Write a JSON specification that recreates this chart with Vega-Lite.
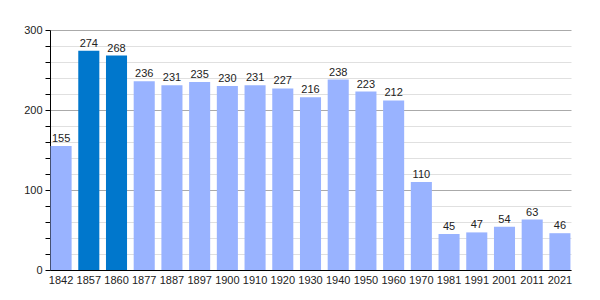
{
  "$schema": "https://vega.github.io/schema/vega-lite/v6.json",
  "width": 521,
  "height": 240,
  "autosize": {"type": "none"},
  "padding": {"left": 50, "top": 30, "right": 29, "bottom": 30},
  "background": "white",
  "config": {"view": {"stroke": null}, "font": "Liberation Sans"},
  "data": {"values": [
    {"year": "1842", "pop": 155, "hl": "n"},
    {"year": "1857", "pop": 274, "hl": "y"},
    {"year": "1860", "pop": 268, "hl": "y"},
    {"year": "1877", "pop": 236, "hl": "n"},
    {"year": "1887", "pop": 231, "hl": "n"},
    {"year": "1897", "pop": 235, "hl": "n"},
    {"year": "1900", "pop": 230, "hl": "n"},
    {"year": "1910", "pop": 231, "hl": "n"},
    {"year": "1920", "pop": 227, "hl": "n"},
    {"year": "1930", "pop": 216, "hl": "n"},
    {"year": "1940", "pop": 238, "hl": "n"},
    {"year": "1950", "pop": 223, "hl": "n"},
    {"year": "1960", "pop": 212, "hl": "n"},
    {"year": "1970", "pop": 110, "hl": "n"},
    {"year": "1981", "pop": 45, "hl": "n"},
    {"year": "1991", "pop": 47, "hl": "n"},
    {"year": "2001", "pop": 54, "hl": "n"},
    {"year": "2011", "pop": 63, "hl": "n"},
    {"year": "2021", "pop": 46, "hl": "n"}
  ]},
  "encoding": {
    "x": {"field": "year", "type": "ordinal", "sort": null,
      "scale": {"paddingInner": 0.24, "paddingOuter": 0.02},
      "axis": {"title": null, "labelAngle": 0, "domainColor": "black", "ticks": false, "labelFontSize": 11, "labelColor": "#222222", "labelPadding": 4}},
    "y": {"field": "pop", "type": "quantitative",
      "scale": {"domain": [0, 300], "nice": false},
      "axis": {"title": null, "values": [0,20,40,60,80,100,120,140,160,180,200,220,240,260,280,300],
        "labelExpr": "datum.value % 100 === 0 ? datum.label : ''",
        "gridColor": {"condition": {"test": "datum.value % 100 === 0", "value": "#aaaaaa"}, "value": "#e0e0e0"},
        "domainColor": "black", "tickColor": "black", "tickSize": 5, "labelFontSize": 11, "labelColor": "#222222", "labelPadding": 3}}
  },
  "layer": [
    {"mark": {"type": "bar"},
     "encoding": {"color": {"field": "hl", "type": "nominal", "scale": {"domain": ["n", "y"], "range": ["#99b3ff", "#0077cc"]}, "legend": null}}},
    {"mark": {"type": "text", "dy": -7, "fontSize": 11, "color": "#222222"},
     "encoding": {"text": {"field": "pop", "type": "quantitative"}}}
  ]
}
